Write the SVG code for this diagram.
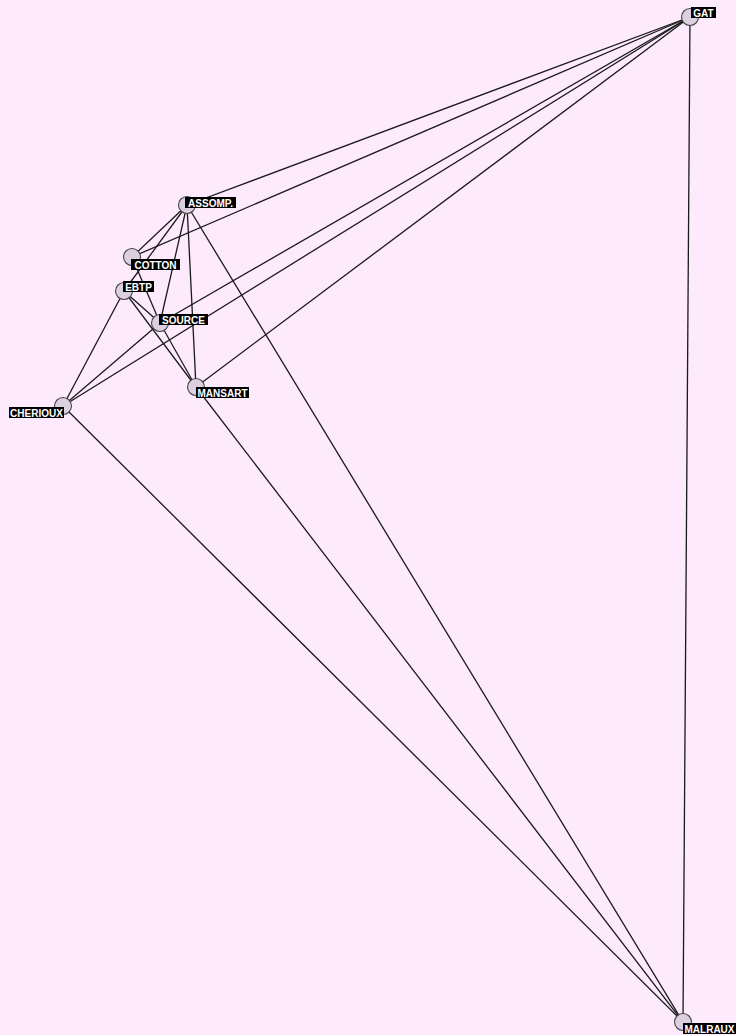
<svg xmlns="http://www.w3.org/2000/svg" width="736" height="1035" viewBox="0 0 736 1035">
<style>
.e{stroke:#1a1a1a;stroke-width:1.3;fill:none}
.n{fill:#dcd0e0;stroke:#444;stroke-width:1.1}
.lb{fill:#000}
.t{fill:#fff;font-family:"Liberation Sans",Arial,sans-serif;font-weight:bold;font-size:10px;text-anchor:middle}
</style>
<rect width="736" height="1035" fill="#fdebfd"/>
<g id="edges">
<line class="e" x1="690" y1="17" x2="187" y2="205"/>
<line class="e" x1="690" y1="17" x2="132" y2="257"/>
<line class="e" x1="690" y1="17" x2="160" y2="323"/>
<line class="e" x1="690" y1="17" x2="63" y2="406"/>
<line class="e" x1="690" y1="17" x2="196" y2="387"/>
<line class="e" x1="690" y1="17" x2="683" y2="1022"/>
<line class="e" x1="187" y1="205" x2="132" y2="257"/>
<line class="e" x1="187" y1="205" x2="124" y2="291"/>
<line class="e" x1="187" y1="205" x2="160" y2="323"/>
<line class="e" x1="187" y1="205" x2="196" y2="387"/>
<line class="e" x1="187" y1="205" x2="683" y2="1022"/>
<line class="e" x1="132" y1="257" x2="160" y2="323"/>
<line class="e" x1="124" y1="291" x2="160" y2="323"/>
<line class="e" x1="124" y1="291" x2="196" y2="387"/>
<line class="e" x1="124" y1="291" x2="63" y2="406"/>
<line class="e" x1="160" y1="323" x2="196" y2="387"/>
<line class="e" x1="160" y1="323" x2="63" y2="406"/>
<line class="e" x1="63" y1="406" x2="683" y2="1022"/>
<line class="e" x1="196" y1="387" x2="683" y2="1022"/>
</g>
<g id="GAT"><circle class="n" cx="690" cy="17" r="8.5"/><rect class="lb" x="691" y="7" width="25" height="11"/><text class="t" x="703.5" y="16.5">GAT</text></g>
<g id="ASSOMP"><circle class="n" cx="187" cy="205" r="8.5"/><rect class="lb" x="185" y="197" width="51" height="11"/><text class="t" x="210.5" y="206.5">ASSOMP.</text></g>
<g id="COTTON"><circle class="n" cx="132" cy="257" r="8.5"/><rect class="lb" x="131" y="259" width="49" height="11"/><text class="t" x="155.5" y="268.5">COTTON</text></g>
<g id="EBTP"><circle class="n" cx="124" cy="291" r="8.5"/><rect class="lb" x="123" y="281" width="31" height="11"/><text class="t" x="138.5" y="290.5">EBTP</text></g>
<g id="SOURCE"><circle class="n" cx="160" cy="323" r="8.5"/><rect class="lb" x="159" y="314" width="49" height="11"/><text class="t" x="183.5" y="323.5">SOURCE</text></g>
<g id="MANSART"><circle class="n" cx="196" cy="387" r="8.5"/><rect class="lb" x="196" y="387" width="53" height="11"/><text class="t" x="222.5" y="396.5">MANSART</text></g>
<g id="CHERIOUX"><circle class="n" cx="63" cy="406" r="8.5"/><rect class="lb" x="9" y="407" width="55" height="11"/><text class="t" x="36.5" y="416.5">CHERIOUX</text></g>
<g id="MALRAUX"><circle class="n" cx="683" cy="1022" r="8.5"/><rect class="lb" x="683" y="1023" width="53" height="11"/><text class="t" x="709.5" y="1032.5">MALRAUX</text></g>
</svg>
